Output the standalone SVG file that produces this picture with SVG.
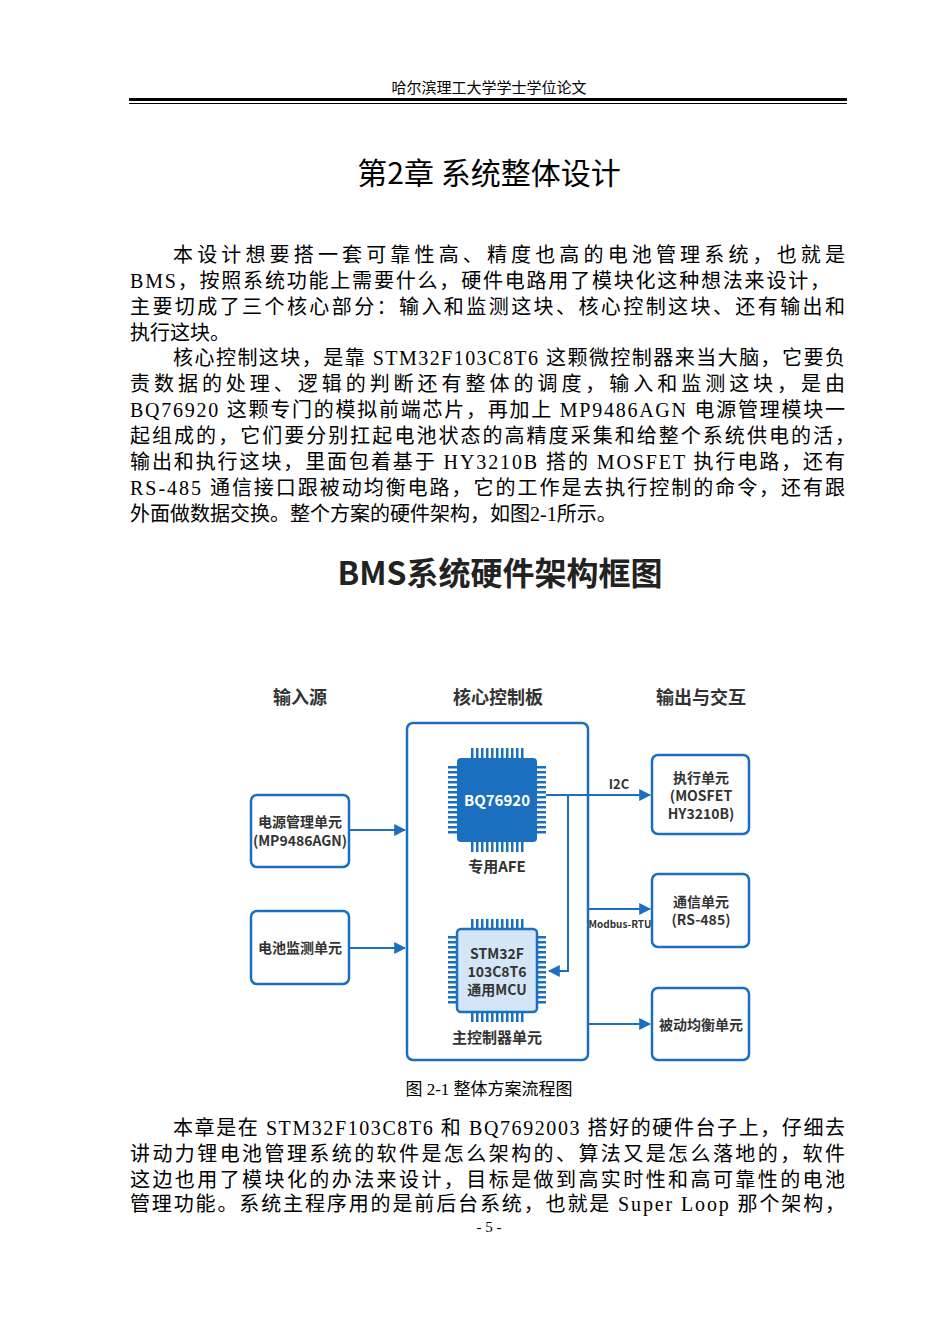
<svg xmlns="http://www.w3.org/2000/svg" width="950" height="1326" viewBox="0 0 950 1326">
<defs>
<style>
.body{font-family:"Liberation Serif","Noto Sans CJK SC",serif;font-size:20px;fill:#000}
.d{font-family:"Noto Sans CJK SC","Noto Sans",sans-serif;font-weight:bold;fill:#333}
.w{fill:#fff}
.box{fill:#fff;stroke:#1a6fbf;stroke-width:2.5}
.ln{stroke:#1a6fbf;stroke-width:2;fill:none}
</style>
<marker id="ah" viewBox="0 0 10 10" refX="9" refY="5" markerWidth="6" markerHeight="6" orient="auto"><path d="M0,0L10,5L0,10z" fill="#1a6fbf"/></marker>
<pattern id="ph" width="5" height="10" patternUnits="userSpaceOnUse"><rect x="1" y="0" width="2.5" height="10" fill="#1a6fbf"/></pattern>
<pattern id="pv" width="10" height="5" patternUnits="userSpaceOnUse"><rect x="0" y="1" width="10" height="2.5" fill="#1a6fbf"/></pattern>
</defs>
<rect width="950" height="1326" fill="#fff"/>
<text x="489" y="93" text-anchor="middle" font-family="Liberation Serif,'Noto Sans CJK SC',serif" font-size="15">哈尔滨理工大学学士学位论文</text>
<rect x="129" y="98" width="718" height="3" fill="#000"/>
<rect x="129" y="103" width="718" height="1" fill="#000"/>
<text x="489" y="184" text-anchor="middle" font-family="'Noto Sans CJK SC',sans-serif" font-size="30">第2章  系统整体设计</text>
<g class="body">
<text x="173" y="262" textLength="672" lengthAdjust="spacing">本设计想要搭一套可靠性高、精度也高的电池管理系统，也就是</text>
<text x="130" y="288" textLength="700" lengthAdjust="spacing">BMS，按照系统功能上需要什么，硬件电路用了模块化这种想法来设计，</text>
<text x="130" y="314" textLength="715" lengthAdjust="spacing">主要切成了三个核心部分：输入和监测这块、核心控制这块、还有输出和</text>
<text x="130" y="340">执行这块。</text>
<text x="173" y="365" textLength="672" lengthAdjust="spacing">核心控制这块，是靠 STM32F103C8T6 这颗微控制器来当大脑，它要负</text>
<text x="130" y="391" textLength="715" lengthAdjust="spacing">责数据的处理、逻辑的判断还有整体的调度，输入和监测这块，是由</text>
<text x="130" y="417" textLength="715" lengthAdjust="spacing">BQ76920 这颗专门的模拟前端芯片，再加上 MP9486AGN 电源管理模块一</text>
<text x="130" y="443" textLength="725" lengthAdjust="spacing">起组成的，它们要分别扛起电池状态的高精度采集和给整个系统供电的活，</text>
<text x="130" y="469" textLength="715" lengthAdjust="spacing">输出和执行这块，里面包着基于 HY3210B 搭的 MOSFET 执行电路，还有</text>
<text x="130" y="495" textLength="715" lengthAdjust="spacing">RS-485 通信接口跟被动均衡电路，它的工作是去执行控制的命令，还有跟</text>
<text x="130" y="521">外面做数据交换。整个方案的硬件架构，如图2-1所示。</text>
<text x="173" y="1135" textLength="672" lengthAdjust="spacing">本章是在 STM32F103C8T6 和 BQ7692003 搭好的硬件台子上，仔细去</text>
<text x="130" y="1161" textLength="715" lengthAdjust="spacing">讲动力锂电池管理系统的软件是怎么架构的、算法又是怎么落地的，软件</text>
<text x="130" y="1187" textLength="715" lengthAdjust="spacing">这边也用了模块化的办法来设计，目标是做到高实时性和高可靠性的电池</text>
<text x="130" y="1211" textLength="715" lengthAdjust="spacing">管理功能。系统主程序用的是前后台系统，也就是 Super  Loop 那个架构，</text>
</g>
<text x="489" y="1232" text-anchor="middle" class="body" style="font-size:15px">- 5 -</text>
<text x="489" y="1095" text-anchor="middle" class="body" style="font-size:17px">图 2-1 整体方案流程图</text>
<text x="500" y="585" text-anchor="middle" class="d" style="font-size:32px;fill:#222">BMS系统硬件架构框图</text>
<text x="300" y="704" text-anchor="middle" class="d" font-size="18">输入源</text>
<text x="498" y="704" text-anchor="middle" class="d" font-size="18">核心控制板</text>
<text x="701" y="704" text-anchor="middle" class="d" font-size="18">输出与交互</text>
<g id="core"><rect class="box" x="407" y="723" width="181" height="337" rx="6"/></g>
<g id="bq">
<rect x="469" y="748" width="56" height="10" fill="url(#ph)"/><rect x="469" y="842" width="56" height="10" fill="url(#ph)"/>
<rect x="448" y="766" width="9" height="68" fill="url(#pv)"/><rect x="537" y="766" width="9" height="68" fill="url(#pv)"/>
<rect x="457" y="758" width="80" height="84" rx="4" fill="#1a6fbf"/>
<text x="497" y="806" text-anchor="middle" class="d w" font-size="15">BQ76920</text>
<text x="497" y="872" text-anchor="middle" class="d" font-size="15">专用AFE</text>
</g>
<g id="mcu">
<rect x="469" y="919" width="56" height="10" fill="url(#ph)"/><rect x="469" y="1012" width="56" height="10" fill="url(#ph)"/>
<rect x="448" y="936" width="9" height="68" fill="url(#pv)"/><rect x="537" y="936" width="9" height="68" fill="url(#pv)"/>
<rect x="457" y="929" width="80" height="83" rx="4" fill="#d3e5f7" stroke="#1a6fbf" stroke-width="2.5"/>
<text x="497" y="959" text-anchor="middle" class="d" font-size="14">STM32F</text>
<text x="497" y="977" text-anchor="middle" class="d" font-size="14">103C8T6</text>
<text x="497" y="995" text-anchor="middle" class="d" font-size="14">通用MCU</text>
<text x="497" y="1043" text-anchor="middle" class="d" font-size="15">主控制器单元</text>
</g>
<g id="pwr"><rect class="box" x="251" y="795" width="98" height="72" rx="6"/>
<text x="300" y="827" text-anchor="middle" class="d" font-size="14">电源管理单元</text>
<text x="300" y="846" text-anchor="middle" class="d" font-size="14">(MP9486AGN)</text></g>
<g id="mon"><rect class="box" x="251" y="911" width="98" height="73" rx="6"/>
<text x="300" y="953" text-anchor="middle" class="d" font-size="14">电池监测单元</text></g>
<g id="exe"><rect class="box" x="652" y="755" width="97" height="79" rx="6"/>
<text x="701" y="783" text-anchor="middle" class="d" font-size="14">执行单元</text>
<text x="701" y="801" text-anchor="middle" class="d" font-size="14">(MOSFET</text>
<text x="701" y="819" text-anchor="middle" class="d" font-size="14">HY3210B)</text></g>
<g id="com"><rect class="box" x="652" y="874" width="97" height="73" rx="6"/>
<text x="701" y="907" text-anchor="middle" class="d" font-size="14">通信单元</text>
<text x="701" y="925" text-anchor="middle" class="d" font-size="14">(RS-485)</text></g>
<g id="bal"><rect class="box" x="652" y="988" width="97" height="72" rx="6"/>
<text x="701" y="1030" text-anchor="middle" class="d" font-size="14">被动均衡单元</text></g>
<g id="connectors">
<line class="ln" x1="349" y1="830" x2="405" y2="830" marker-end="url(#ah)"/>
<line class="ln" x1="349" y1="948" x2="405" y2="948" marker-end="url(#ah)"/>
<line class="ln" x1="546" y1="795" x2="650" y2="795" marker-end="url(#ah)"/>
<polyline class="ln" points="568,795 568,971 549,971" marker-end="url(#ah)"/>
<line class="ln" x1="588" y1="909" x2="650" y2="909" marker-end="url(#ah)"/>
<line class="ln" x1="588" y1="1024" x2="650" y2="1024" marker-end="url(#ah)"/>
<text x="619" y="789" text-anchor="middle" class="d" font-size="13">I2C</text>
<text x="620" y="928" text-anchor="middle" class="d" font-size="10">Modbus-RTU</text>
</g>
</svg>
